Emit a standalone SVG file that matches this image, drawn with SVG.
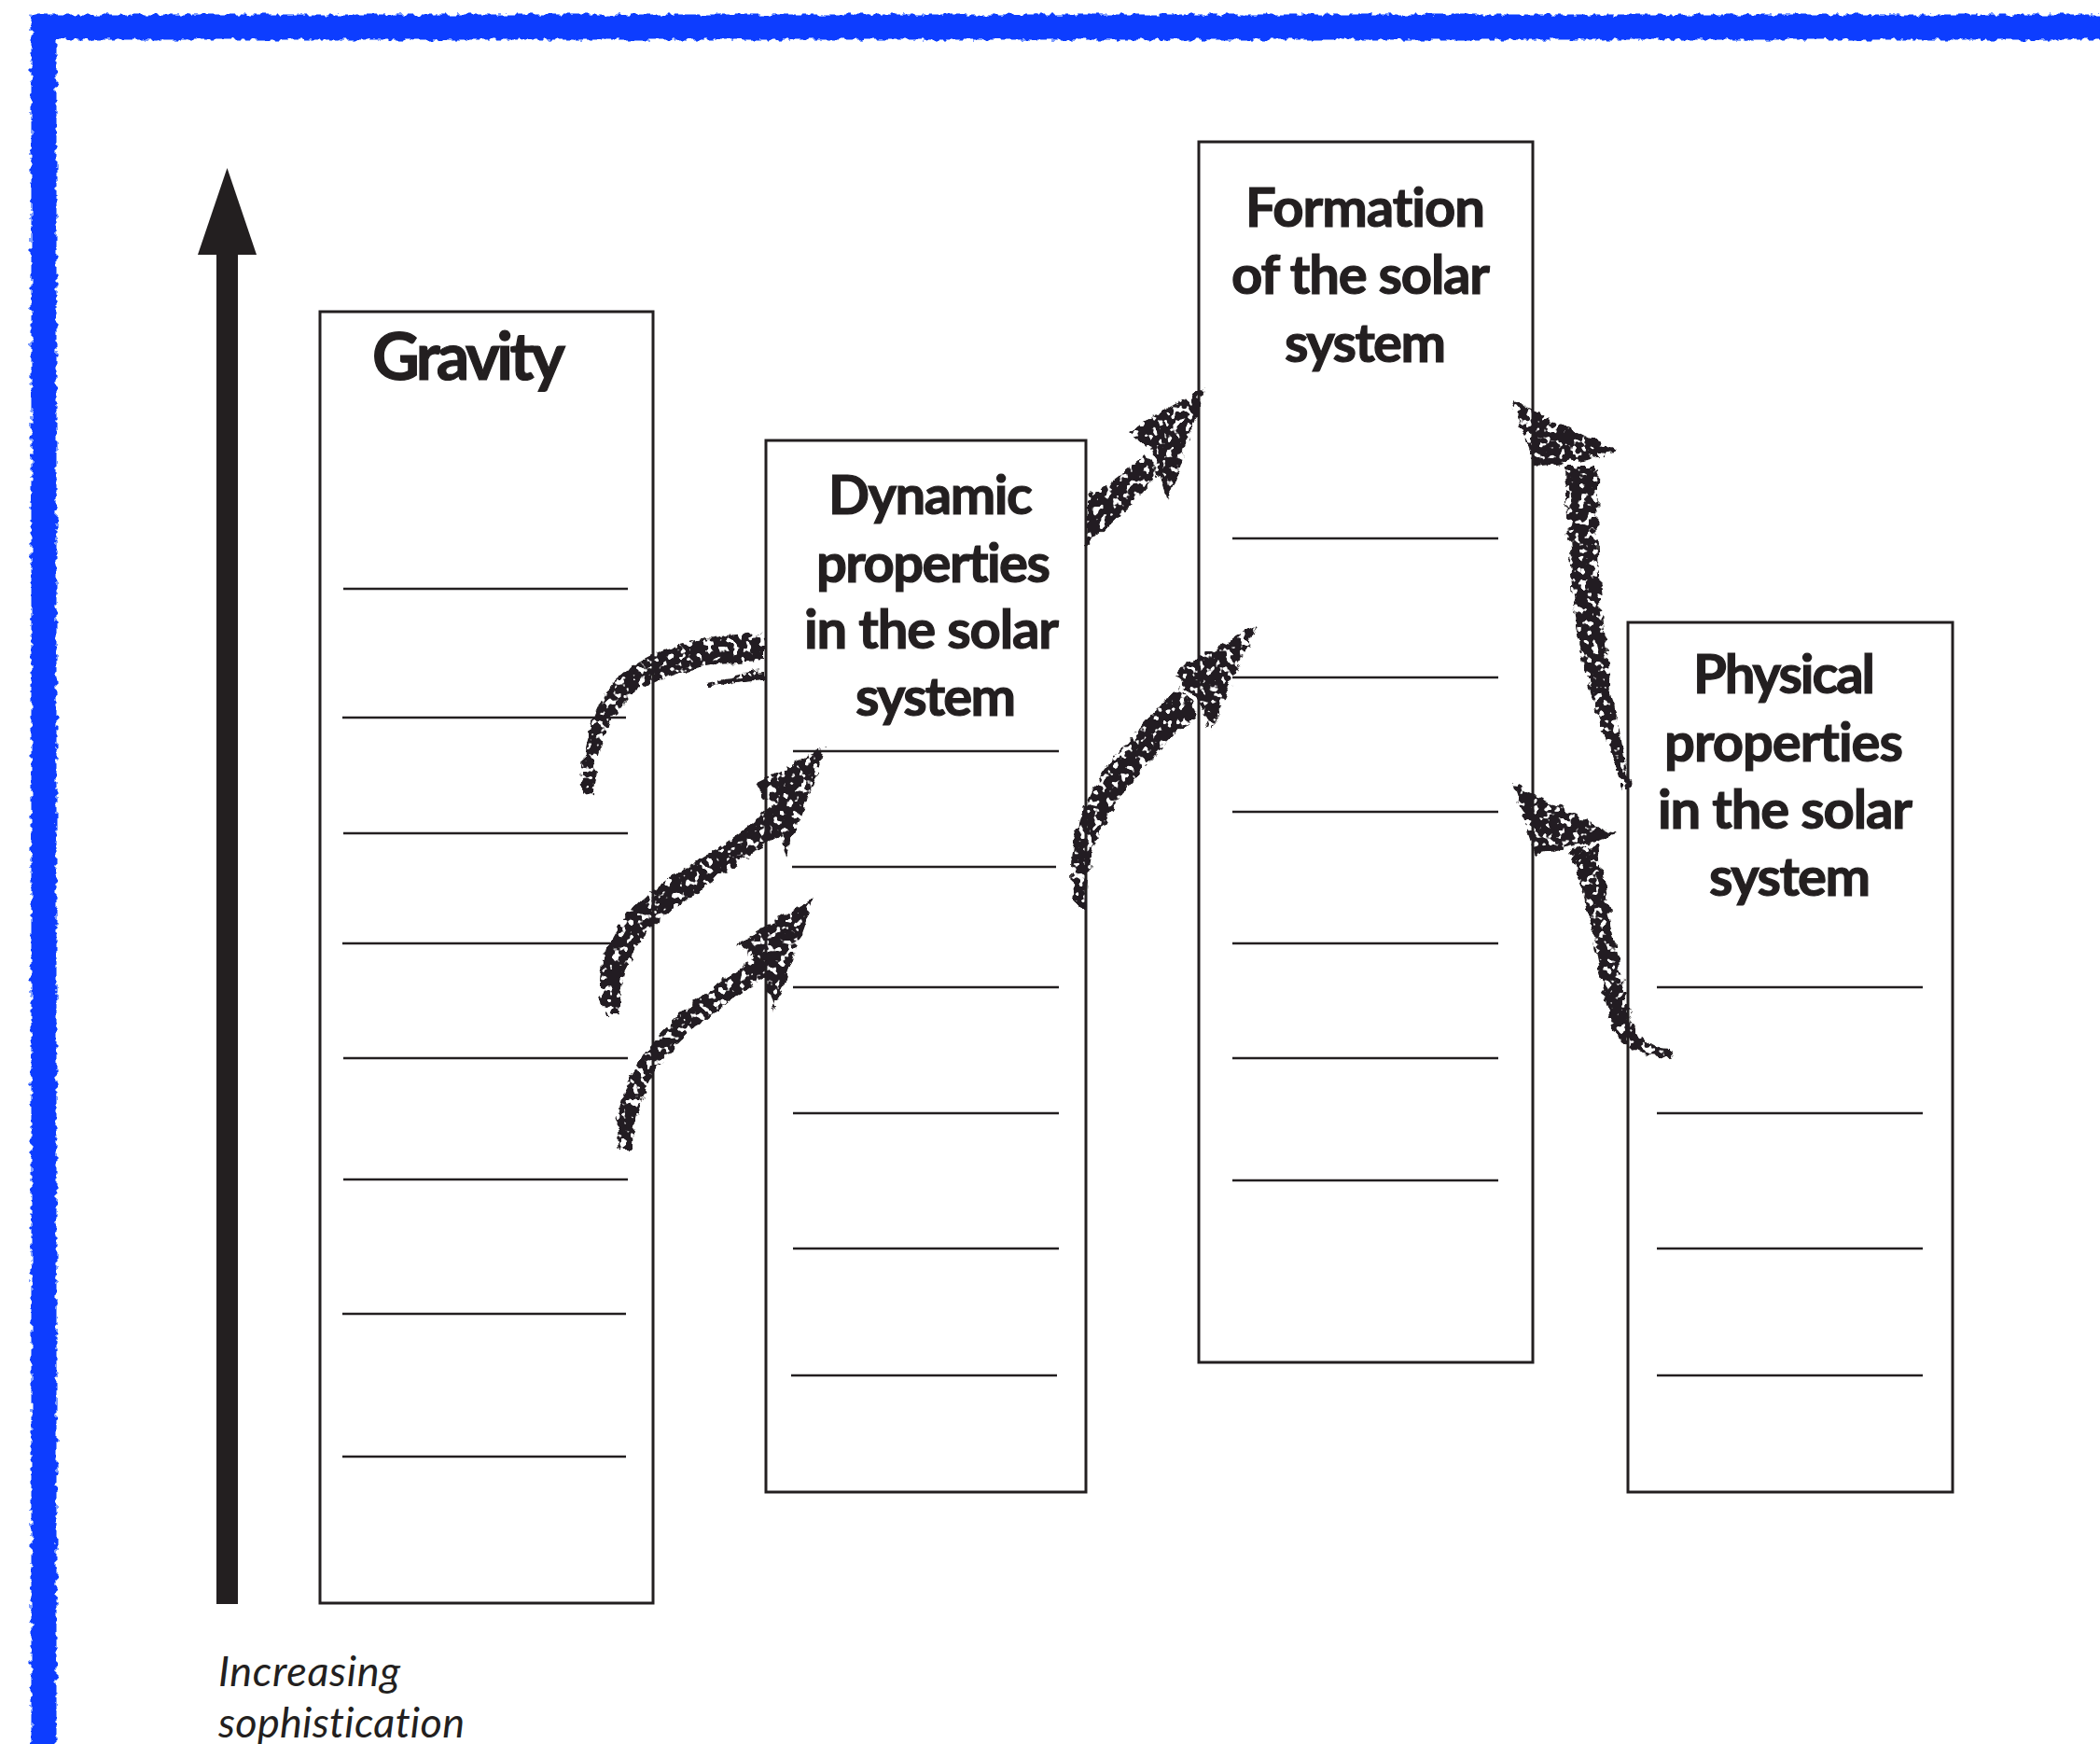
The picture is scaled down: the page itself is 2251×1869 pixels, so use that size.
<svg xmlns="http://www.w3.org/2000/svg" width="2251" height="1869" viewBox="0 0 2251 1869">
<style>
.box{fill:#fff;stroke:#231f20;stroke-width:3}
.ln{stroke:#231f20;stroke-width:2.6}
.t{font-family:Lato,"Open Sans","Liberation Sans",sans-serif;font-weight:700;fill:#231f20;stroke:#231f20;stroke-width:1.2;font-variant-ligatures:none;font-feature-settings:"liga" 0,"clig" 0,"dlig" 0,"calt" 0}
.ti{font-family:Lato,"Open Sans","Liberation Sans",sans-serif;font-style:italic;font-weight:400;fill:#231f20;font-variant-ligatures:none;font-feature-settings:"liga" 0,"clig" 0,"dlig" 0,"calt" 0}
.br{fill:#231f20;filter:url(#rough)}
</style>
<defs>
<filter id="rough" x="-20%" y="-20%" width="140%" height="140%">
<feTurbulence type="fractalNoise" baseFrequency="0.09" numOctaves="2" seed="4" result="n"/>
<feDisplacementMap in="SourceGraphic" in2="n" scale="12" xChannelSelector="R" yChannelSelector="G" result="d"/>
<feTurbulence type="fractalNoise" baseFrequency="0.14" numOctaves="2" seed="9" result="m"/>
<feColorMatrix in="m" type="matrix" values="0 0 0 0 0  0 0 0 0 0  0 0 0 0 0  0 0 0 -14 9" result="mask"/>
<feComposite in="d" in2="mask" operator="in"/>
</filter>
<filter id="roughB" x="-5%" y="-5%" width="110%" height="110%">
<feTurbulence type="fractalNoise" baseFrequency="0.15" numOctaves="2" seed="2" result="n"/>
<feDisplacementMap in="SourceGraphic" in2="n" scale="8" xChannelSelector="R" yChannelSelector="G"/>
</filter>
</defs>
<rect width="2251" height="1869" fill="#fff"/>
<g id="frame">
<rect x="47" y="29" width="2300" height="1900" fill="none" stroke="#0a3cff" stroke-width="27" filter="url(#roughB)"/>
</g>
<g id="axis">
<rect x="232" y="270" width="23" height="1449" fill="#231f20"/>
<polygon points="243.5,180 275,273 212,273" fill="#231f20"/>
<text class="ti" font-size="45" x="234" y="1807" textLength="195">Increasing</text>
<text class="ti" font-size="45" x="234" y="1862" textLength="264">sophistication</text>
</g>
<g id="node-gravity">
<rect class="box" x="343" y="334" width="357" height="1384"/>
<text class="t" font-size="70" x="399" y="407" textLength="207">Gravity</text>
<line class="ln" x1="368" y1="631" x2="673" y2="631"/>
<line class="ln" x1="367" y1="769" x2="671" y2="769"/>
<line class="ln" x1="368" y1="893" x2="673" y2="893"/>
<line class="ln" x1="367" y1="1011" x2="671" y2="1011"/>
<line class="ln" x1="368" y1="1134" x2="673" y2="1134"/>
<line class="ln" x1="368" y1="1264" x2="673" y2="1264"/>
<line class="ln" x1="367" y1="1408" x2="671" y2="1408"/>
<line class="ln" x1="367" y1="1561" x2="671" y2="1561"/>
</g>
<g id="node-dynamic">
<rect class="box" x="821" y="472" width="343" height="1127"/>
<text class="t" font-size="58" x="888" y="551" textLength="219">Dynamic</text>
<text class="t" font-size="58" x="875" y="624" textLength="251">properties</text>
<text class="t" font-size="58" x="862" y="695" textLength="273">in the solar</text>
<text class="t" font-size="58" x="917" y="767" textLength="172">system</text>
<line class="ln" x1="850" y1="805" x2="1135" y2="805"/>
<line class="ln" x1="849" y1="929" x2="1132" y2="929"/>
<line class="ln" x1="850" y1="1058" x2="1135" y2="1058"/>
<line class="ln" x1="850" y1="1193" x2="1135" y2="1193"/>
<line class="ln" x1="850" y1="1338" x2="1135" y2="1338"/>
<line class="ln" x1="848" y1="1474" x2="1133" y2="1474"/>
</g>
<g id="node-formation">
<rect class="box" x="1285" y="152" width="358" height="1308"/>
<text class="t" font-size="58" x="1335" y="243" textLength="257">Formation</text>
<text class="t" font-size="58" x="1320" y="315" textLength="277">of the solar</text>
<text class="t" font-size="58" x="1377" y="388" textLength="173">system</text>
<line class="ln" x1="1321" y1="577" x2="1606" y2="577"/>
<line class="ln" x1="1321" y1="726" x2="1606" y2="726"/>
<line class="ln" x1="1321" y1="870" x2="1606" y2="870"/>
<line class="ln" x1="1321" y1="1011" x2="1606" y2="1011"/>
<line class="ln" x1="1321" y1="1134" x2="1606" y2="1134"/>
<line class="ln" x1="1321" y1="1265" x2="1606" y2="1265"/>
</g>
<g id="node-physical">
<rect class="box" x="1745" y="667" width="348" height="932"/>
<text class="t" font-size="58" x="1815" y="743" textLength="195">Physical</text>
<text class="t" font-size="58" x="1784" y="816" textLength="256">properties</text>
<text class="t" font-size="58" x="1777" y="888" textLength="273">in the solar</text>
<text class="t" font-size="58" x="1832" y="960" textLength="173">system</text>
<line class="ln" x1="1776" y1="1058" x2="2061" y2="1058"/>
<line class="ln" x1="1776" y1="1193" x2="2061" y2="1193"/>
<line class="ln" x1="1776" y1="1338" x2="2061" y2="1338"/>
<line class="ln" x1="1776" y1="1474" x2="2061" y2="1474"/>
</g>
<g id="connectors">
<g id="arrow-a">
<path class="br" d="M 820 678 C 740 680 675 700 648 745 C 628 780 620 820 625 852 L 634 850 C 638 810 650 775 670 752 C 702 722 760 710 820 708 Z"/>
<path class="br" d="M 758 731 C 785 724 805 720 820 719 L 820 728 C 800 729 780 732 758 737 Z"/>
</g>
<g id="arrow-b">
<path class="br" d="M 648 1088 C 632 1040 655 985 705 950 C 750 920 790 900 830 860 L 848 885 C 805 918 760 945 720 975 C 680 1005 662 1045 664 1088 Z"/>
<path class="br" d="M 887 800 L 806 840 L 830 866 L 842 918 Z"/>
</g>
<g id="arrow-c">
<path class="br" d="M 664 1232 C 655 1180 680 1130 725 1090 C 760 1060 790 1040 818 1018 L 832 1040 C 800 1060 770 1080 740 1105 C 700 1140 678 1185 678 1232 Z"/>
<path class="br" d="M 873 962 L 790 1012 L 815 1030 L 830 1083 Z"/>
</g>
<g id="arrow-d">
<path class="br" d="M 1164 585 L 1165 535 C 1185 522 1205 505 1228 488 L 1245 505 C 1222 530 1195 560 1164 585 Z"/>
<path class="br" d="M 1292 415 L 1210 462 L 1236 485 L 1252 537 Z"/>
</g>
<g id="arrow-e">
<path class="br" d="M 1155 975 C 1140 930 1150 880 1175 840 C 1200 800 1235 765 1265 735 L 1285 765 C 1255 790 1225 820 1200 855 C 1175 890 1163 930 1165 975 Z"/>
<path class="br" d="M 1348 668 L 1257 722 L 1282 748 L 1298 783 Z"/>
</g>
<g id="arrow-f">
<path class="br" d="M 1678 500 C 1680 580 1685 660 1700 720 C 1712 770 1728 810 1740 846 L 1747 846 C 1740 800 1730 760 1722 700 C 1714 640 1710 570 1714 500 Z"/>
<path class="br" d="M 1620 428 L 1733 484 L 1692 494 L 1645 500 Z"/>
</g>
<g id="arrow-g">
<path class="br" d="M 1684 910 C 1700 960 1712 1030 1725 1090 C 1735 1125 1760 1133 1792 1134 L 1790 1124 C 1765 1122 1752 1110 1745 1080 C 1735 1030 1722 960 1714 906 Z"/>
<path class="br" d="M 1621 839 L 1733 895 L 1700 905 L 1646 916 Z"/>
</g>
</g>
</svg>
